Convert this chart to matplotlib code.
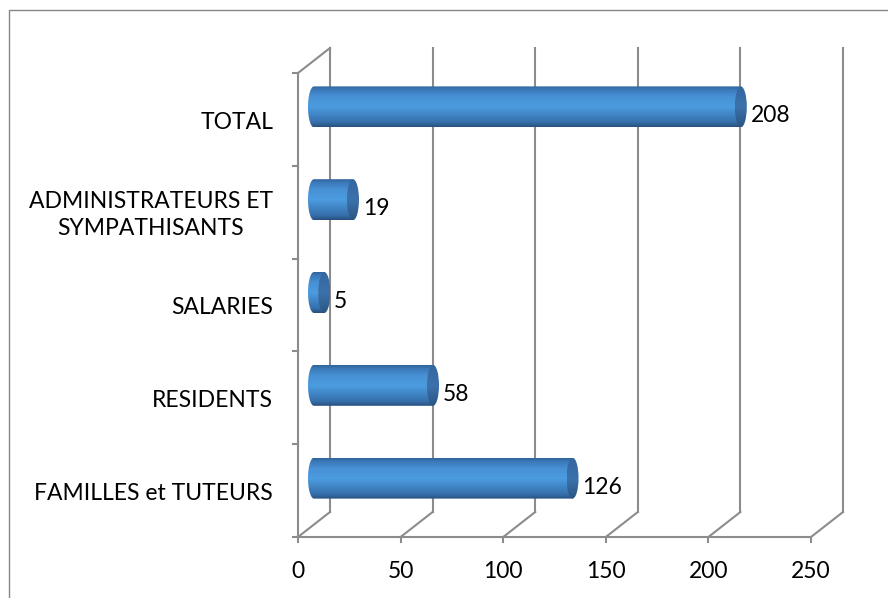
import numpy as np
import matplotlib
matplotlib.use("Agg")
import matplotlib.pyplot as plt
from matplotlib.patches import Rectangle, Ellipse, PathPatch
from matplotlib.path import Path
from matplotlib.colors import LinearSegmentedColormap

# data (bottom to top)
categories = ["FAMILLES et TUTEURS", "RESIDENTS", "SALARIES",
              "ADMINISTRATEURS ET\nSYMPATHISANTS", "TOTAL"]
values = [126, 58, 5, 19, 208]
xticks = [0, 50, 100, 150, 200, 250]

plt.rcParams['font.family'] = ['Lato', 'DejaVu Sans']

W, H = 888, 598
fig = plt.figure(figsize=(W / 100, H / 100), dpi=100)

# front plane of the 3d box, in pixels
px0, px1, py_top, py_bot = 298, 811, 73, 537
ax = fig.add_axes([px0 / W, 1 - py_bot / H, (px1 - px0) / W, (py_bot - py_top) / H])
xmax = xticks[-1]
n = len(categories)
ax.set_xlim(0, xmax)
ax.set_ylim(-0.5, n - 0.5)
ax.axis('off')

# depth offset of the back wall (data units)
dx = 32 / (px1 - px0) * xmax
dy = 25 / (py_bot - py_top) * n
ux = xmax / (px1 - px0)          # value units per pixel
uy = n / (py_bot - py_top)       # category units per pixel

gcol = '#8c8c8c'
lw = 1.5
ybot, ytop = -0.5, n - 0.5
fs = 16.5

# back wall gridlines and floor diagonals
for v in xticks:
    ax.plot([v + dx, v + dx], [ybot + dy, ytop + dy], color=gcol, lw=lw, clip_on=False, zorder=1)
    ax.plot([v, v + dx], [ybot, ybot + dy], color=gcol, lw=lw, clip_on=False, zorder=1)
    ax.plot([v, v], [ybot, ybot - 5 * uy], color=gcol, lw=lw, clip_on=False, zorder=1)
# floor front edge, left wall
ax.plot([0, xmax], [ybot, ybot], color=gcol, lw=lw, clip_on=False, zorder=1)
ax.plot([0, 0], [ybot, ytop], color=gcol, lw=lw, clip_on=False, zorder=1)
ax.plot([0, dx], [ytop, ytop + dy], color=gcol, lw=lw, clip_on=False, zorder=1)
for k in range(n + 1):
    yk = ybot + k
    ax.plot([-5 * ux, 0], [yk, yk], color=gcol, lw=lw, clip_on=False, zorder=1)

# cylinder shading
body_cmap = LinearSegmentedColormap.from_list('body', [
    (0.0, '#27507e'), (0.12, '#3670ac'), (0.5, '#4c9ce0'),
    (0.75, '#4790d4'), (0.92, '#3a78b8'), (1.0, '#2f6399')])
cap_cmap = LinearSegmentedColormap.from_list('cap', [
    (0.0, '#2a5582'), (0.5, '#3c72ab'), (1.0, '#3566a0')])
grad = np.linspace(0, 1, 256).reshape(-1, 1)

bh = 41 * uy        # bar thickness
ea = 6 * ux         # end cap semi-width
for i, v in enumerate(values):
    yc = i + dy / 2
    x0 = dx / 2
    x1 = v + dx / 2
    y0, y1 = yc - bh / 2, yc + bh / 2
    # body: left half-ellipse + rectangle
    t = np.linspace(np.pi / 2, 3 * np.pi / 2, 40)
    verts = [(x1, y1)] + [(x0 + ea * np.cos(a), yc + bh / 2 * np.sin(a)) for a in t] + [(x1, y0), (x1, y1)]
    codes = [Path.MOVETO] + [Path.LINETO] * (len(verts) - 2) + [Path.CLOSEPOLY]
    body = PathPatch(Path(verts, codes), facecolor='none', edgecolor='none')
    ax.add_patch(body)
    im = ax.imshow(grad, cmap=body_cmap, origin='lower', aspect='auto',
                   extent=(x0 - ea, x1, y0, y1), zorder=3)
    im.set_clip_path(body)
    cap = Ellipse((x1, yc), 2 * ea, bh, facecolor='none', edgecolor='none')
    ax.add_patch(cap)
    imc = ax.imshow(grad, cmap=cap_cmap, origin='lower', aspect='auto',
                    extent=(x1 - ea, x1 + ea, y0, y1), zorder=4)
    imc.set_clip_path(cap)
    ax.text(x1 + ea + 4 * ux, yc - 9 * uy, str(v), ha='left', va='center',
            fontsize=fs, color='black', zorder=5)

ax.set_xlim(0, xmax)
ax.set_ylim(-0.5, n - 0.5)

# category labels
for i, c in enumerate(categories):
    ax.text(-25 * ux, i - 3 * uy, c, ha='right', va='center', multialignment='center',
            fontsize=fs, color='black', linespacing=1.35)

# value axis labels
for v in xticks:
    ax.text(v, ybot - 35 * uy, str(v), ha='center', va='center', fontsize=fs, color='black')

# chart area border
fig.add_artist(Rectangle((9 / W, -0.1), 1.2, 1 - 10 / H + 0.1, transform=fig.transFigure,
                         fill=False, edgecolor='#868686', lw=1))

fig.savefig('out.png', dpi=100, facecolor='white')
